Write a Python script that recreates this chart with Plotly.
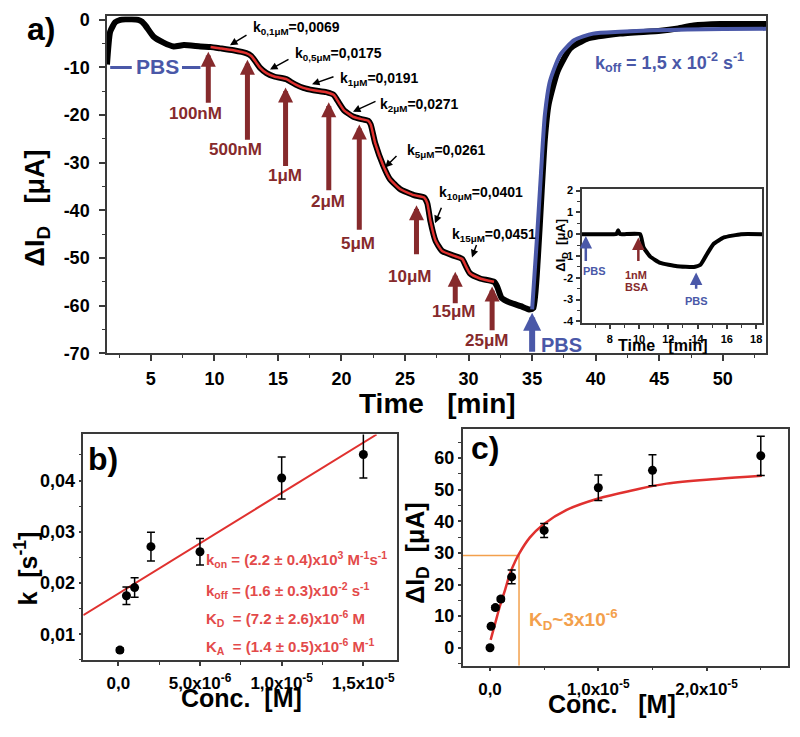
import plotly.graph_objects as go

# ---------------- panel a: drain-current response vs time ----------------
time_min = [1.55, 1.8, 2.2, 2.6, 3.0, 3.5, 4.0, 4.3, 4.6, 5.2, 6.0, 6.8, 7.6, 8.9, 9.7,
            10.5, 11.5, 12.5, 12.9, 13.3, 13.6, 14.1, 14.7, 15.7, 16.0, 16.4, 17.0, 17.8,
            18.8, 19.4, 19.7, 20.2, 20.9, 21.5, 22.1, 22.3, 22.65, 23.3, 23.8, 24.6, 25.7,
            26.5, 26.75, 27.0, 27.4, 27.9, 28.8, 29.5, 29.75, 30.1, 30.9, 32.0, 32.25, 32.6,
            33.3, 34.1, 34.8, 35.1, 35.45, 35.75, 36.0, 36.3, 37.0, 38.0, 39.3, 41.9, 45.1,
            46.5, 47.7, 49.8, 53.4]
delta_id = [-9.4, -2.5, -0.5, 0.0, 0.1, 0.1, 0.0, -0.4, -1.3, -3.5, -4.8, -5.6, -5.3, -5.6, -5.7,
            -6.0, -6.4, -7.0, -7.6, -9.0, -10.1, -11.2, -11.9, -12.5, -13.0, -13.6, -14.3, -14.8,
            -15.2, -15.8, -17.0, -19.0, -20.3, -20.8, -21.2, -22.0, -25.9, -30.7, -33.4, -35.5, -36.8,
            -37.3, -38.5, -42.3, -46.4, -48.5, -49.5, -50.2, -51.5, -53.2, -54.3, -55.0, -56.0, -58.4,
            -59.4, -60.1, -60.8, -60.5, -50.0, -36.0, -25.0, -17.7, -10.8, -6.0, -4.0, -2.9, -2.3,
            -1.8, -1.2, -0.9, -0.9]
fit_window = [9.7, 32.0]

koff_t = [35.0, 35.4, 35.7, 36.0, 36.4, 37.2, 38.3, 39.8, 41.9, 44.5, 47.2, 50.0, 53.4]
koff_y = [-60.8, -45.0, -32.0, -20.0, -12.9, -7.4, -4.3, -2.9, -2.5, -2.2, -2.05, -1.95, -1.9]

conc_labels = ["100nM", "500nM", "1μM", "2μM", "5μM", "10μM", "15μM", "25μM"]
injection_t = [9.52, 12.6, 15.6, 19.0, 21.4, 25.9, 28.95, 31.85]
k_labels = ["k<sub>0,1μM</sub>=0,0069", "k<sub>0,5μM</sub>=0,0175", "k<sub>1μM</sub>=0,0191",
            "k<sub>2μM</sub>=0,0271", "k<sub>5μM</sub>=0,0261", "k<sub>10μM</sub>=0,0401",
            "k<sub>15μM</sub>=0,0451"]

# inset: BSA control
bsa_t = [6.1, 7.0, 8.0, 8.45, 8.57, 8.7, 9.0, 10.07, 10.3, 10.76, 11.45, 12.6, 13.74,
         14.2, 14.67, 15.1, 15.8, 16.97, 18.4]
bsa_y = [0, 0, 0, 0, 0.18, 0, 0, 0, -0.59, -1.03, -1.32, -1.47, -1.5,
         -1.4, -0.88, -0.44, -0.15, 0, 0]

# ---------------- panel b: k vs concentration ----------------
b_conc = [1e-7, 5e-7, 1e-6, 2e-6, 5e-6, 1e-5, 1.5e-5]
b_k = [0.0069, 0.0175, 0.0191, 0.0271, 0.0261, 0.0405, 0.0451]
b_err = [0.0004, 0.0017, 0.0019, 0.0028, 0.0026, 0.0041, 0.0046]
b_fit_x = [-2.14e-6, 1.581e-5]
b_fit_y = [0.0137, 0.049]

# ---------------- panel c: saturation curve ----------------
c_conc = [0, 1e-7, 5e-7, 1e-6, 2e-6, 5e-6, 1e-5, 1.5e-5, 2.5e-5]
c_di = [0, 6.8, 12.7, 15.4, 22.4, 37.1, 50.6, 56.1, 60.7]
c_err = [0.5, 0.5, 0.6, 0.6, 2.2, 2.2, 4.0, 4.9, 6.2]
c_fit_x = [0.06e-6, 0.5e-6, 0.92e-6, 1.4e-6, 1.85e-6, 2.3e-6, 2.68e-6, 3.69e-6, 4.92e-6,
           7.08e-6, 1e-5, 1.32e-5, 1.63e-5, 2.09e-5, 2.51e-5]
c_fit_y = [2.5, 8.0, 13.2, 18.4, 23.5, 27.1, 29.7, 34.9, 39.0, 43.6, 47.2, 49.8, 51.9, 53.4, 54.4]
kd_conc = 2.68e-6
kd_level = 29.2

# ---------------- styling ----------------
W, H = 800, 737
FONT = "Liberation Sans"
DARKRED = "#862a2c"
BLUE = "#4a58a8"
RED = "#e0312f"
TXTRED = "#e34a4a"
ORANGE = "#f3a04c"
AXC = "#3a3a3a"

A_X = [1.55, 53.4]
A_Y = [-70, 0.7]
IN_X = [6.1, 18.4]
IN_Y = [-4.07, 2.06]
B_X = [-2.14e-6, 1.704e-5]
B_Y = [0.005, 0.049]
C_X = [-2.52e-6, 2.754e-5]
C_Y = [-5.66, 69.2]


def px(x):
    return x / W


def py(y):
    return 1 - y / H


fig = go.Figure()

# panel a traces
fig.add_trace(go.Scatter(x=time_min, y=delta_id, mode="lines", xaxis="x", yaxis="y",
                         line=dict(color="black", width=6, shape="spline", smoothing=0.5),
                         showlegend=False, hoverinfo="skip"))
fit_t = [t for t in time_min if fit_window[0] <= t <= fit_window[1]]
fit_v = [v for t, v in zip(time_min, delta_id) if fit_window[0] <= t <= fit_window[1]]
fig.add_trace(go.Scatter(x=fit_t, y=fit_v, mode="lines", xaxis="x", yaxis="y",
                         line=dict(color=RED, width=2.5, shape="spline", smoothing=0.5),
                         showlegend=False, hoverinfo="skip"))
fig.add_trace(go.Scatter(x=koff_t, y=koff_y, mode="lines", xaxis="x", yaxis="y",
                         line=dict(color=BLUE, width=4, shape="spline", smoothing=0.6),
                         showlegend=False, hoverinfo="skip"))

# inset
fig.add_trace(go.Scatter(x=bsa_t, y=bsa_y, mode="lines", xaxis="x2", yaxis="y2",
                         line=dict(color="black", width=4, shape="spline", smoothing=0.4),
                         showlegend=False, hoverinfo="skip"))

# panel b
fig.add_trace(go.Scatter(x=b_fit_x, y=b_fit_y, mode="lines", xaxis="x3", yaxis="y3",
                         line=dict(color=RED, width=2), showlegend=False, hoverinfo="skip"))
fig.add_trace(go.Scatter(x=b_conc, y=b_k, mode="markers", xaxis="x3", yaxis="y3",
                         marker=dict(color="black", size=9),
                         error_y=dict(type="data", array=b_err, color="black", thickness=1.5, width=4),
                         showlegend=False, hoverinfo="skip"))

# panel c
fig.add_trace(go.Scatter(x=[C_X[0], kd_conc, kd_conc], y=[kd_level, kd_level, C_Y[0]],
                         mode="lines", xaxis="x4", yaxis="y4",
                         line=dict(color=ORANGE, width=1.5), showlegend=False, hoverinfo="skip"))
fig.add_trace(go.Scatter(x=c_fit_x, y=c_fit_y, mode="lines", xaxis="x4", yaxis="y4",
                         line=dict(color=RED, width=2.5, shape="spline"), showlegend=False,
                         hoverinfo="skip"))
fig.add_trace(go.Scatter(x=c_conc, y=c_di, mode="markers", xaxis="x4", yaxis="y4",
                         marker=dict(color="black", size=9),
                         error_y=dict(type="data", array=c_err, color="black", thickness=1.5, width=4),
                         showlegend=False, hoverinfo="skip"))


def axis(domain, rng, tickvals, ticktext, size, minor_dtick, anchor, ticklen=6, standoff=4):
    return dict(domain=domain, range=rng, anchor=anchor, tickmode="array", tickvals=tickvals,
                ticktext=ticktext, tickfont=dict(family=FONT, size=size, color="black", weight="bold"),
                showline=True, linecolor=AXC, linewidth=1.5, mirror=True, ticks="outside",
                ticklen=ticklen, tickwidth=1.5, tickcolor=AXC, showgrid=False, zeroline=False,
                ticklabelstandoff=standoff,
                minor=dict(tickmode="linear", tick0=0, dtick=minor_dtick, ticks="outside",
                           ticklen=3, tickwidth=1.2, tickcolor=AXC, showgrid=False))


a_xt = [5, 10, 15, 20, 25, 30, 35, 40, 45, 50]
a_yt = [-70, -60, -50, -40, -30, -20, -10, 0]
in_xt = [8, 10, 12, 14, 16, 18]
in_yt = [-4, -3, -2, -1, 0, 1, 2]
b_xt = [0, 5e-6, 1e-5, 1.5e-5]
b_yt = [0.01, 0.02, 0.03, 0.04]
c_xt = [0, 1e-5, 2e-5]
c_yt = [0, 10, 20, 30, 40, 50, 60]

fig.update_layout(
    width=W, height=H, margin=dict(l=0, r=0, t=0, b=0), autosize=False,
    paper_bgcolor="white", plot_bgcolor="white", showlegend=False,
    xaxis=axis([px(107), px(766)], A_X, a_xt, [str(v) for v in a_xt], 18, 2.5, "y",
               standoff=2),
    yaxis=axis([py(355), py(10.7)], A_Y, a_yt, [str(v) for v in a_yt], 18, 5, "x",
               standoff=6),
    xaxis2=axis([px(582), px(762)], IN_X, in_xt, [str(v) for v in in_xt], 11, 1, "y2",
                ticklen=4, standoff=1),
    yaxis2=axis([py(324), py(187.3)], IN_Y, in_yt, [str(v) for v in in_yt], 11, 0.5, "x2",
                ticklen=4, standoff=1),
    xaxis3=axis([px(83.3), px(396.7)], B_X, b_xt,
                ["0,0", "5,0x10<sup>-6</sup>", "1,0x10<sup>-5</sup>", "1,5x10<sup>-5</sup>"],
                17, 2.5e-6, "y3", ticklen=4, standoff=3),
    yaxis3=axis([py(668.3), py(438)], B_Y, b_yt, ["0,01", "0,02", "0,03", "0,04"],
                18, 0.005, "x3", ticklen=3, standoff=0),
    xaxis4=axis([px(462.7), px(788.3)], C_X, c_xt,
                ["0,0", "1,0x10<sup>-5</sup>", "2,0x10<sup>-5</sup>"], 17, 5e-6, "y4",
                ticklen=4, standoff=3),
    yaxis4=axis([py(674.3), py(432.3)], C_Y, c_yt, [str(v) for v in c_yt], 18, 5, "x4",
                ticklen=3, standoff=0),
)

ann = []


def text(xp, yp, s, size, color="black", xanchor="center", yanchor="middle", angle=0):
    ann.append(dict(x=px(xp), y=py(yp), xref="paper", yref="paper", text=s, showarrow=False,
                    font=dict(family=FONT, size=size, color=color, weight="bold"),
                    xanchor=xanchor, yanchor=yanchor, textangle=angle))


def parrow(tip, tail, color="black", width=1.5, size=1.0):
    ann.append(dict(x=px(tip[0]), y=py(tip[1]), xref="paper", yref="paper", text="",
                    showarrow=True, ax=tail[0] - tip[0], ay=tail[1] - tip[1],
                    arrowhead=2, arrowsize=size, arrowwidth=width, arrowcolor=color))


def darrow(t, y_tip, y_tail, xa, ya, color, width, size):
    ann.append(dict(x=t, y=y_tip, xref=xa, yref=ya, axref=xa, ayref=ya, ax=t, ay=y_tail,
                    text="", showarrow=True, arrowhead=2, arrowsize=size, arrowwidth=width,
                    arrowcolor=color))


# panel labels
text(41, 23, "a)", 32)
text(103, 463, "b)", 32)
text(485, 452, "c)", 32)

# axis titles
text(437, 406, "Time   [min]", 28)
text(37, 207, "ΔI<sub>D</sub>   [μA]", 27, angle=-90)
text(241, 707, "Conc.  [M]", 25)
text(26, 575, "k  [s<sup>-1</sup>]", 25, angle=-90)
text(612, 713, "Conc.   [M]", 25)
text(417, 560, "ΔI<sub>D</sub>  [μA]", 25, angle=-90)
text(663, 347, "Time   [min]", 16)
text(562, 245, "ΔI<sub>D</sub>  [μA]", 13, angle=-90)

# panel a: injection arrows and labels
arrow_tip = [-6.7, -8.4, -14.2, -17.3, -22.0, -38.9, -52.9, -56.0]
arrow_tail = [-17.7, -25.5, -31.0, -36.1, -44.4, -49.5, -59.8, -65.5]
label_pos = [(195, 110), (235, 147), (285, 173), (328, 200), (358, 243), (410, 276), (453, 312),
             (486, 342)]
for t, lab, tip, tail, pos in zip(injection_t, conc_labels, arrow_tip, arrow_tail, label_pos):
    darrow(t, tip, tail, "x", "y", DARKRED, 5, 0.6)
    text(pos[0], pos[1], lab, 17, DARKRED)

# PBS return arrow
darrow(35.0, -61.5, -70, "x", "y", BLUE, 6, 0.6)
text(561, 347, "PBS", 20, BLUE)

# PBS baseline marker
fig.add_shape(type="line", x0=1.8, x1=3.5, y0=-10, y1=-10, xref="x", yref="y",
              line=dict(color=BLUE, width=3))
fig.add_shape(type="line", x0=7.45, x1=8.9, y0=-10, y1=-10, xref="x", yref="y",
              line=dict(color=BLUE, width=3))
text(157, 62, "PBS", 21, BLUE)

# k labels
k_pos = [(251, 22), (293, 49), (338, 75), (378, 101), (405, 148), (437, 191), (450, 234)]
k_arrows = [((230, 40), (248, 29)), ((270, 65), (290, 54)), ((312, 80), (335, 72)),
            ((353, 108), (377, 97)), ((385, 165), (398, 152)), ((435, 222), (442, 205)),
            ((472, 257), (477, 243))]
for lab, pos, (tip, tail) in zip(k_labels, k_pos, k_arrows):
    text(pos[0], pos[1], lab, 14, xanchor="left")
    parrow(tip, tail)

text(593, 58, "k<sub>off</sub> = 1,5 x 10<sup>-2</sup> s<sup>-1</sup>", 18, BLUE, xanchor="left")

# inset arrows
darrow(6.36, -0.08, -1.3, "x2", "y2", BLUE, 2.5, 1.0)
text(594, 271, "PBS", 11, BLUE)
darrow(9.95, -0.15, -1.3, "x2", "y2", DARKRED, 2.5, 1.0)
text(636, 275, "1nM", 11, DARKRED)
text(636, 287, "BSA", 11, DARKRED)
darrow(13.9, -1.76, -2.57, "x2", "y2", BLUE, 2.5, 1.0)
text(696, 302, "PBS", 11, BLUE)

# panel b equations
eqs = ["k<sub>on</sub> = (2.2 ± 0.4)x10<sup>3</sup> M<sup>-1</sup>s<sup>-1</sup>",
       "k<sub>off</sub> = (1.6 ± 0.3)x10<sup>-2</sup> s<sup>-1</sup>",
       "K<sub>D</sub>  = (7.2 ± 2.6)x10<sup>-6</sup> M",
       "K<sub>A</sub>  = (1.4 ± 0.5)x10<sup>-6</sup> M<sup>-1</sup>"]
for s, yy in zip(eqs, [566, 597, 626, 655]):
    text(204, yy, s, 15, TXTRED, xanchor="left")

# panel c KD annotation
text(527, 627, "K<sub>D</sub>~3x10<sup>-6</sup>", 19, ORANGE, xanchor="left")

fig.update_layout(annotations=ann)

fig.write_html("out.html", config={"displayModeBar": False},
               post_script="document.body.style.margin='0';")
